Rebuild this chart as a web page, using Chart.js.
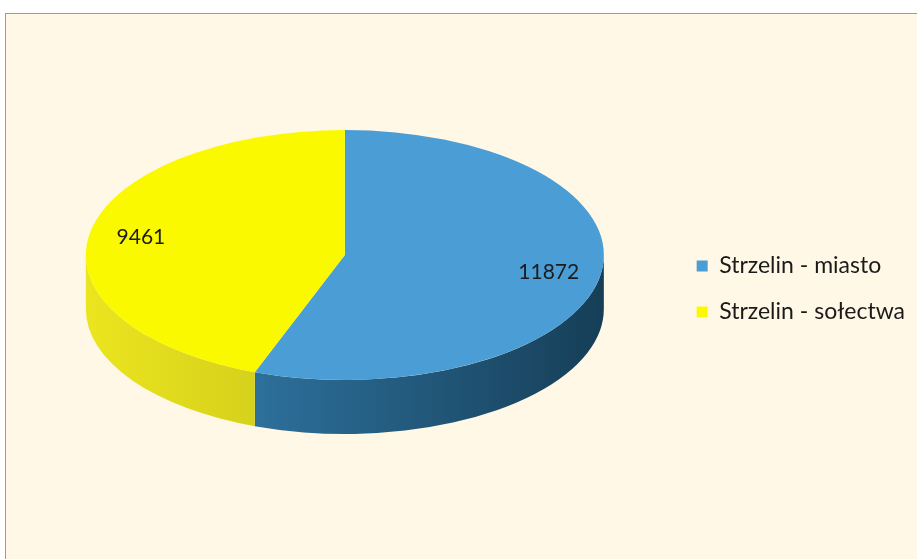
<!DOCTYPE html>
<html>
<head>
<meta charset="utf-8">
<script src="https://cdn.jsdelivr.net/npm/chart.js@4"></script>
<style>
  html, body { margin: 0; padding: 0; background: #fff; overflow: hidden; width: 917px; height: 559px; }
  #frame { position: absolute; left: 5px; top: 13px; width: 1000px; height: 1000px; border: 1px solid #9c9c9c; background: #fff8e6; }
  #pie { position: absolute; left: 0; top: 0; }
</style>
</head>
<body>
<div id="frame"></div>
<canvas id="pie" width="915" height="559"></canvas>
<script>
// --- data ---
const labels = ['Strzelin - miasto', 'Strzelin - sołectwa'];
const values = [11872, 9461];

// --- look ---
const topColors = ['#4a9dd5', '#fbf900'];
const sideColors = [['#2d709b', '#163e57'], ['#ebe51f', '#d6d11b']];
const squash = 125 / 259;   // how flat the pie looks
const depth = 54;           // thickness of the side
const lift = -34;           // move pie up from the chart area middle

Chart.defaults.font.family = 'Lato';

const pie3d = {
  id: 'pie3d',
  beforeDatasetsDraw(chart) {
    const ctx = chart.ctx;
    const arcs = chart.getDatasetMeta(0).data;
    const cx = arcs[0].x, cy = arcs[0].y + lift;
    const rx = arcs[0].outerRadius, ry = rx * squash;

    // sides first, only the front half (0..PI) shows
    arcs.forEach((arc, i) => {
      const a1 = Math.max(arc.startAngle, 0);
      const a2 = Math.min(arc.endAngle, Math.PI);
      if (a2 <= a1) return;
      const g = ctx.createLinearGradient(cx + rx * Math.cos(a2), 0, cx + rx * Math.cos(a1), 0);
      g.addColorStop(0, sideColors[i][0]);
      g.addColorStop(1, sideColors[i][1]);
      ctx.fillStyle = g;
      ctx.beginPath();
      ctx.ellipse(cx, cy, rx, ry, 0, a1, a2);
      ctx.lineTo(cx + rx * Math.cos(a2), cy + depth + ry * Math.sin(a2));
      ctx.ellipse(cx, cy + depth, rx, ry, 0, a2, a1, true);
      ctx.closePath();
      ctx.fill();
    });

    // squash the real pie into the top face
    ctx.save();
    ctx.translate(cx, cy);
    ctx.scale(1, squash);
    ctx.translate(-cx, -arcs[0].y);
  },
  afterDatasetsDraw(chart) {
    const ctx = chart.ctx;
    ctx.restore();
    const arcs = chart.getDatasetMeta(0).data;
    const cx = arcs[0].x, cy = arcs[0].y + lift;
    const rx = arcs[0].outerRadius;
    ctx.save();
    ctx.font = '21px Lato';
    ctx.fillStyle = '#1c1c1c';
    ctx.textAlign = 'center';
    ctx.textBaseline = 'middle';
    arcs.forEach((arc, i) => {
      const mid = (arc.startAngle + arc.endAngle) / 2;
      const r = rx * 0.8;
      ctx.fillText(values[i], cx + r * Math.cos(mid), cy + r * squash * Math.sin(mid));
    });
    ctx.restore();
  }
};

new Chart(document.getElementById('pie'), {
  type: 'pie',
  data: {
    labels: labels,
    datasets: [{
      data: values,
      backgroundColor: topColors,
      borderWidth: 0
    }]
  },
  options: {
    responsive: false,
    animation: false,
    events: [],
    radius: 259,
    layout: { padding: { left: 16, top: 19, bottom: 0, right: 0 } },
    plugins: {
      legend: {
        position: 'right',
        labels: {
          boxWidth: 11,
          boxHeight: 11,
          padding: 23,
          color: '#1a1a1a',
          font: { family: 'Lato', size: 23 }
        }
      },
      tooltip: { enabled: false }
    }
  },
  plugins: [pie3d]
});
</script>
</body>
</html>
